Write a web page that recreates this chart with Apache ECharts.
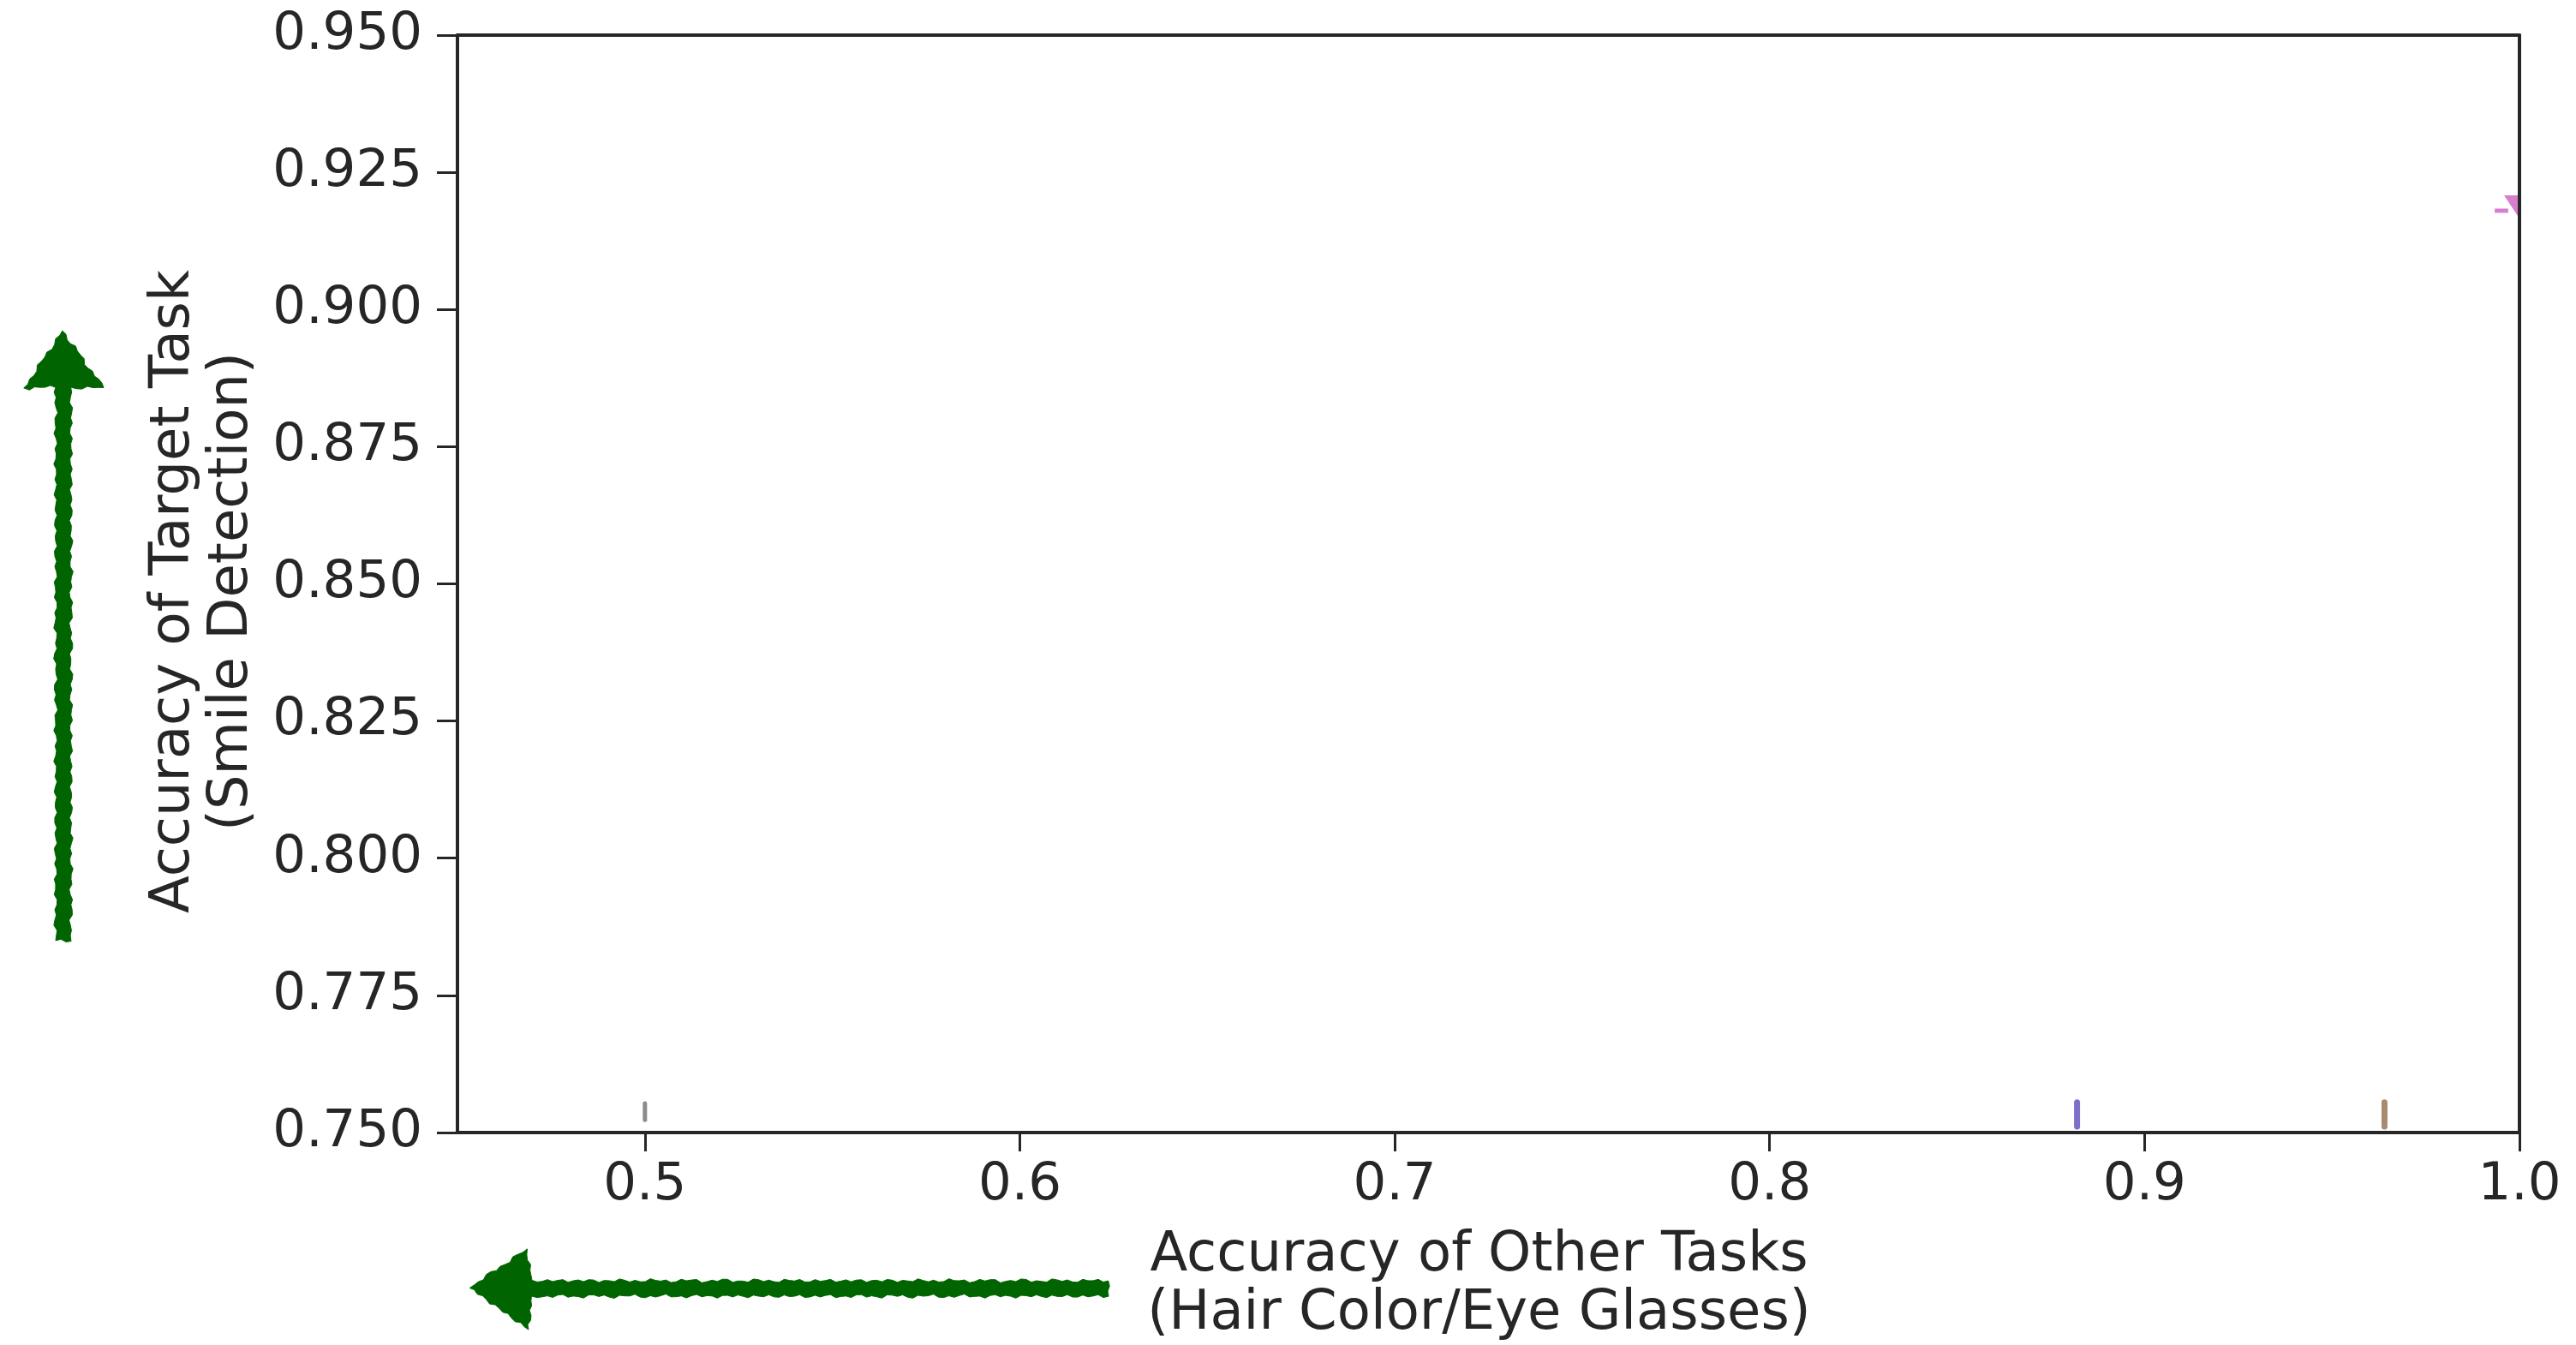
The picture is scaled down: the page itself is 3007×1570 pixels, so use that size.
<!DOCTYPE html>
<html>
<head>
<meta charset="utf-8">
<script src="https://cdn.jsdelivr.net/npm/echarts@6/dist/echarts.min.js"></script>
<style>
  html, body { margin: 0; padding: 0; background: #ffffff; }
  #chart { width: 3007px; height: 1570px; }
</style>
</head>
<body>
<div id="chart"></div>
<script>
// Axis ticks
const xTicks = [0.5, 0.6, 0.7, 0.8, 0.9, 1.0];
const yTicks = [0.750, 0.775, 0.800, 0.825, 0.850, 0.875, 0.900, 0.925, 0.950];

// Vertical interval marks along the bottom: x, lower y, upper y
const barX    = [0.500, 0.882, 0.964];
const barLow  = [0.7523, 0.7511, 0.7511];
const barHigh = [0.7553, 0.7555, 0.7555];

// Target-task point at the right edge, with its horizontal interval
const pointX = [1.0];
const pointY = [0.9187];
const spanLeft  = [0.9934];
const spanRight = [0.9970];
const spanY     = [0.918];

const barColors = ['#8c8c8c', '#7e70c9', '#a88b6f'];
const barWidths = [5, 7, 7];
const pointColor = '#d67fce';

const ink = '#262626';
const fontFamily = '"DejaVu Sans", sans-serif';

const chart = echarts.init(document.getElementById('chart'), null, { renderer: 'canvas' });

// Rough, chalk-like outline for a polygon (deterministic wobble)
function roughOutline(pts, step, amp, seed) {
  const out = [];
  let k = seed;
  for (let i = 0; i < pts.length; i++) {
    const a = pts[i], b = pts[(i + 1) % pts.length];
    const dx = b[0] - a[0], dy = b[1] - a[1];
    const len = Math.hypot(dx, dy);
    const n = Math.max(1, Math.round(len / step));
    const nx = -dy / len, ny = dx / len;
    for (let j = 0; j < n; j++) {
      const t = j / n;
      k += 1;
      const w = amp * (0.55 * Math.sin(k * 2.17) + 0.3 * Math.sin(k * 5.31 + 1.3) + 0.15 * Math.sin(k * 11.7));
      const edge = (j === 0) ? 0.3 : 1;
      out.push([a[0] + dx * t + nx * w * edge, a[1] + dy * t + ny * w * edge]);
    }
  }
  return out;
}

// Up arrow beside the y axis
const upArrow = roughOutline([
  [73, 386], [121, 453], [83, 452], [83, 1098], [65, 1098], [65, 452], [28, 453]
], 6, 2.8, 3);

// Left arrow under the x axis
const leftArrow = roughOutline([
  [548, 1503], [615, 1458], [621, 1495], [1294, 1495], [1294, 1513], [621, 1513], [617, 1552]
], 6, 2.8, 17);

const barData = barX.map((x, i) => [x, barLow[i], barHigh[i], i]);
const spanData = spanLeft.map((x, i) => [x, spanRight[i], spanY[i]]);
const pointData = pointX.map((x, i) => [x, pointY[i]]);

const titleStyle = { color: ink, fontSize: 64, fontFamily: fontFamily, lineHeight: 68 };

const option = {
  backgroundColor: '#ffffff',
  animation: false,
  grid: { left: 534, right: 66, top: 41, bottom: 248, containLabel: false, outerBoundsMode: 'none' },
  xAxis: [{
    type: 'value',
    min: 0.45,
    max: 1.0,
    z: 5,
    name: 'Accuracy of Other Tasks\n(Hair Color/Eye Glasses)',
    nameLocation: 'middle',
    nameGap: 110,
    nameTextStyle: Object.assign({ padding: [0, 22, 0, 0] }, titleStyle),
    axisLine: { show: true, onZero: false, lineStyle: { color: ink, width: 4 } },
    axisTick: { show: true, inside: false, length: 22, customValues: xTicks, lineStyle: { color: ink, width: 3 } },
    axisLabel: {
      customValues: xTicks, margin: 32, color: ink, fontSize: 61, fontFamily: fontFamily,
      formatter: v => v.toFixed(1)
    },
    splitLine: { show: false }
  }, {
    type: 'value', position: 'top', min: 0.45, max: 1.0, z: 5,
    axisLine: { show: true, onZero: false, lineStyle: { color: ink, width: 4 } },
    axisTick: { show: false }, axisLabel: { show: false }, splitLine: { show: false }
  }],
  yAxis: [{
    type: 'value',
    min: 0.75,
    max: 0.95,
    z: 5,
    name: 'Accuracy of Target Task\n(Smile Detection)',
    nameLocation: 'middle',
    nameGap: 229,
    nameTextStyle: Object.assign({ padding: [0, 18, 0, 0] }, titleStyle),
    axisLine: { show: true, onZero: false, lineStyle: { color: ink, width: 4 } },
    axisTick: { show: true, inside: false, length: 24, customValues: yTicks, lineStyle: { color: ink, width: 3 } },
    axisLabel: {
      customValues: yTicks, margin: 41, color: ink, fontSize: 61, fontFamily: fontFamily,
      formatter: v => v.toFixed(3)
    },
    splitLine: { show: false }
  }, {
    type: 'value', position: 'right', min: 0.75, max: 0.95, z: 5,
    axisLine: { show: true, onZero: false, lineStyle: { color: ink, width: 4 } },
    axisTick: { show: false }, axisLabel: { show: false }, splitLine: { show: false }
  }],
  series: [{
    // vertical interval marks
    type: 'custom',
    clip: true,
    z: 2,
    data: barData,
    encode: { x: 0, y: [1, 2] },
    renderItem: function (params, api) {
      const i = api.value(3);
      const p0 = api.coord([api.value(0), api.value(1)]);
      const p1 = api.coord([api.value(0), api.value(2)]);
      return {
        type: 'line',
        shape: { x1: p0[0], y1: p0[1], x2: p1[0], y2: p1[1] },
        style: { stroke: barColors[i], lineWidth: barWidths[i], lineCap: 'round' }
      };
    }
  }, {
    // horizontal interval next to the target-task point
    type: 'custom',
    clip: true,
    z: 2,
    data: spanData,
    encode: { x: [0, 1], y: 2 },
    renderItem: function (params, api) {
      const p0 = api.coord([api.value(0), api.value(2)]);
      const p1 = api.coord([api.value(1), api.value(2)]);
      return {
        type: 'line',
        shape: { x1: p0[0], y1: p0[1], x2: p1[0], y2: p1[1] },
        style: { stroke: pointColor, lineWidth: 5 }
      };
    }
  }, {
    // downward triangle marker
    type: 'custom',
    clip: true,
    z: 2,
    data: pointData,
    encode: { x: 0, y: 1 },
    renderItem: function (params, api) {
      const c = api.coord([api.value(0), api.value(1)]);
      return {
        type: 'polygon',
        shape: { points: [[c[0] - 18, c[1] - 13.5], [c[0] + 18, c[1] - 13.5], [c[0], c[1] + 13.5]] },
        style: { fill: pointColor }
      };
    }
  }],
  graphic: [{
    type: 'polygon',
    shape: { points: upArrow },
    style: { fill: '#006400', stroke: '#006400', lineWidth: 1 },
    z: 10
  }, {
    type: 'polygon',
    shape: { points: leftArrow },
    style: { fill: '#006400', stroke: '#006400', lineWidth: 1 },
    z: 10
  }]
};

chart.setOption(option);
</script>
</body>
</html>
